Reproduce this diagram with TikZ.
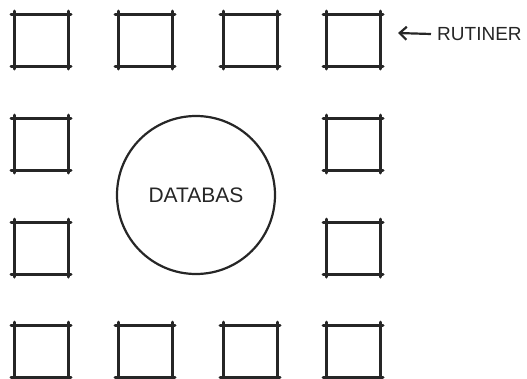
\documentclass[tikz,border=0pt]{standalone}
\usepackage{fontspec}
\setmainfont{Liberation Sans}
\usetikzlibrary{arrows.meta}
\tikzset{
  rutin/.style={minimum width=54pt, minimum height=52pt, inner sep=0pt, outer sep=0pt},
  kant/.style={line width=3pt, line cap=round, shorten <=-3pt, shorten >=-3pt},
  etikett/.style={inner sep=0pt, font=\fontsize{19}{19}\selectfont, text=black!85},
}
\begin{document}
\begin{tikzpicture}[x=1pt, y=-1pt, black!85]
            \useasboundingbox (0,0) rectangle (527,378);

            % routines round the edge
            \foreach \n/\x/\y in {
            r1/41/40,
            r2/145/40,
            r3/250/40,
            r4/353/40,
            r5/41/144,
            r6/353/144,
            r7/41/248,
            r8/353/248,
            r9/41/351,
            r10/145/351,
            r11/250/351,
            r12/353/351
            }
            {
                \node[rutin] (\n) at (\x,\y) {};
                \draw[kant] (\n.north west) -- (\n.north east);
                \draw[kant] (\n.south west) -- (\n.south east);
                \draw[kant] (\n.north west) -- (\n.south west);
                \draw[kant] (\n.north east) -- (\n.south east);
            }

            % database
            \node[circle, draw, line width=2.2pt, minimum size=158pt, inner sep=0pt,
                  font=\fontsize{21}{21}\selectfont, text=black!85] (db) at (196,195) {DATABAS};

            % label
            \node[etikett, anchor=west] (rutiner) at (437,34) {RUTINER};
            \coordinate (pil) at (398,33);
            \draw[-{Straight Barb[length=7pt,width=13pt]}, line width=2.2pt] ([xshift=-6pt]rutiner.west) -- (pil);
        \end{tikzpicture}
\end{document}
